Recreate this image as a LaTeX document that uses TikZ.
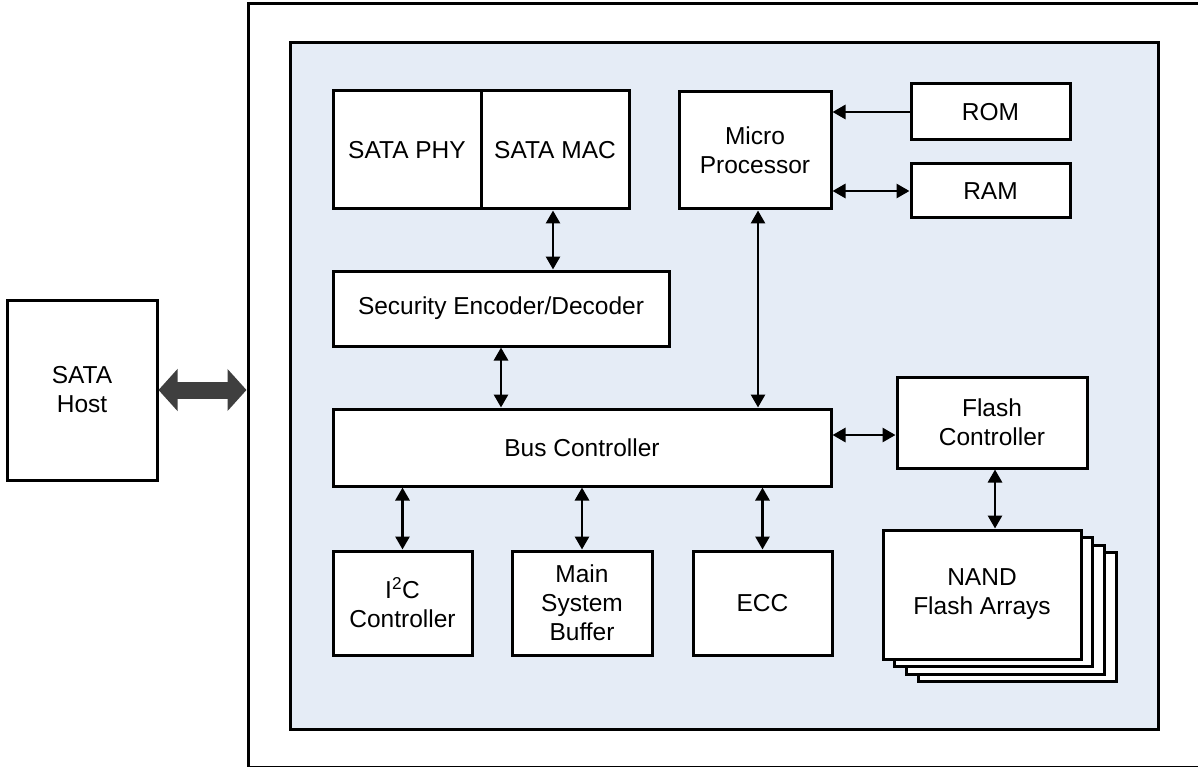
\documentclass[tikz,border=0pt]{standalone}
\usepackage{fontspec}
\setmainfont{Liberation Sans}
\usetikzlibrary{arrows.meta}
\definecolor{panel}{HTML}{E5ECF6}
\definecolor{bigarrow}{HTML}{3F3F3F}
\begin{document}
\begin{tikzpicture}[x=1pt,y=-1pt,
  box/.style={draw=black, line width=3pt, fill=white, align=center, inner sep=0pt,
    font=\fontsize{24.5}{29}\selectfont},
  conn/.style={line width=2.8pt, {Triangle[length=13pt,width=14pt]}-{Triangle[length=13pt,width=14pt]}},
  oneway/.style={line width=2.8pt, -{Triangle[length=13pt,width=14pt]}}
]
\useasboundingbox (0,0) rectangle (1198,767);
% outer and panel
\node[draw=black, line width=3pt, fill=white, minimum width=962pt, minimum height=763pt, inner sep=0pt] (outer) at (729,385.5) {};
\node[draw=black, line width=3pt, fill=panel, minimum width=868pt, minimum height=686pt, inner sep=0pt] (panel) at (724,386) {};
% host
\node[box, minimum width=150pt, minimum height=180pt] (host) at (82,390) {SATA\\Host};
% top row
\node[box, minimum width=148pt, minimum height=118pt] (phy) at (407,150) {SATA PHY};
\node[box, minimum width=148pt, minimum height=118pt] (mac) at (555,150) {SATA MAC};
\node[box, minimum width=152pt, minimum height=117pt] (mp) at (755,150.5) {Micro\\Processor};
\node[box, minimum width=159pt, minimum height=56pt] (rom) at (990.5,112) {ROM};
\node[box, minimum width=159pt, minimum height=54pt] (ram) at (990.5,191) {RAM};
% middle
\node[box, minimum width=336pt, minimum height=75pt] (sec) at (501,308.5) {Security Encoder/Decoder};
\node[box, minimum width=498pt, minimum height=77pt] (bus) at (582,447.5) {Bus Controller};
\node[box, minimum width=190pt, minimum height=91pt] (flash) at (992,422.5) {Flash\\Controller};
% NAND stack
\foreach \k in {3,2,1} {
  \node[box, minimum width=198pt, minimum height=129pt] (nand\k) at ({982+11.7*\k},{594.5+7.5*\k}) {};
}
\node[box, minimum width=198pt, minimum height=129pt] (nand) at (982,594.5) {NAND\\Flash Arrays};
% bottom row
\node[box, minimum width=139pt, minimum height=104pt] (i2c) at (402.5,603) {I\textsuperscript{2}C\\Controller};
\node[box, minimum width=140pt, minimum height=104pt] (msb) at (582,603) {Main\\System\\Buffer};
\node[box, minimum width=139pt, minimum height=104pt] (ecc) at (762.5,603) {ECC};
% connectors
\draw[line width=17pt, draw=bigarrow, {Triangle[length=19pt,width=41pt]}-{Triangle[length=19pt,width=41pt]}]
  (host.east) -- (host.east -| outer.west);
\draw[conn] ([xshift=-2pt]mac.south) -- ([xshift=-2pt]mac.south |- sec.north);
\draw[conn] (sec.south) -- (sec.south |- bus.north);
\draw[conn] ([xshift=3pt]mp.south) -- ([xshift=3pt]mp.south |- bus.north);
\draw[oneway] (rom.west) -- (rom.west -| mp.east);
\draw[conn] (ram.west) -- (ram.west -| mp.east);
\coordinate (fb) at (860,435);
\draw[conn] (bus.east |- fb) -- (flash.west |- fb);
\draw[conn] ([xshift=3pt]flash.south) -- ([xshift=3pt]flash.south |- nand.north);
\draw[conn] (i2c.north) -- (i2c.north |- bus.south);
\draw[conn] (msb.north) -- (msb.north |- bus.south);
\draw[conn] (ecc.north) -- (ecc.north |- bus.south);
\end{tikzpicture}
\end{document}
